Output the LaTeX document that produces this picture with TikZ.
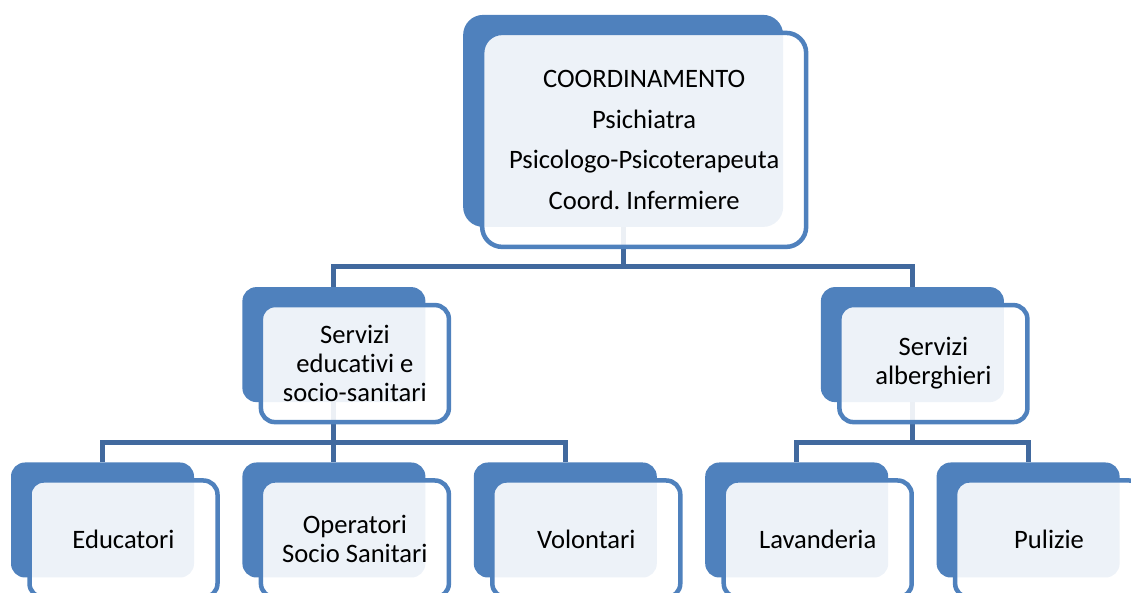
\documentclass[tikz,border=0pt]{standalone}
\usepackage{fontspec}
\setmainfont{Carlito}[Ligatures=NoCommon]
\usepackage{tikz}
\usetikzlibrary{positioning,calc}
\frenchspacing

\definecolor{boxblue}{HTML}{4F81BD}
\definecolor{linkblue}{HTML}{41699E}

\begin{document}
\begin{tikzpicture}[x=1pt, y=1pt,
    backbox/.style = {fill=boxblue, rounded corners=14pt, inner sep=0pt,
      minimum width=183pt, minimum height=115pt},
    frontbox/.style = {draw=boxblue, line width=4.5pt, fill=white,
      fill opacity=0.9, text opacity=1, rounded corners=14pt, inner sep=0pt,
      minimum width=188pt, minimum height=117pt, align=center,
      font=\fontsize{26.6}{29}\selectfont},
    connector/.style = {draw=linkblue, line width=5pt}]

      \clip (0,0) rectangle (1131,593);

      \node[backbox] (educB) at (102.5,73) {};
      \node[backbox, right = 48pt of educB] (ossB) {};
      \node[backbox, right = 48pt of ossB] (volB) {};
      \node[backbox, right = 48pt of volB] (lavB) {};
      \node[backbox, right = 48pt of lavB] (pulB) {};

      \node[backbox, above = 60pt of ossB] (edusanB) {};
      \coordinate (albergM) at ($(lavB)!0.5!(pulB)$);
      \node[backbox] (albergB) at (albergM |- edusanB) {};

      \node[backbox, minimum width=320pt, minimum height=212pt, rounded corners=20pt]
        (coordB) at ($(edusanB.north)!0.5!(albergB.north) + (0,166)$) {};

      \foreach \c in {edusanB, albergB}
        \draw[connector] (coordB.south) |- ($(\c.north) + (0,20)$) -- (\c.north);
      \foreach \c in {educB, ossB, volB}
        \draw[connector] (edusanB.south) |- ($(\c.north) + (0,20)$) -- (\c.north);
      \foreach \c in {lavB, pulB}
        \draw[connector] (albergB.south) |- ($(\c.north) + (0,20)$) -- (\c.north);

      \node[frontbox, minimum width=324pt, minimum height=214pt, rounded corners=20pt,
        font=\fontsize{26.6}{40.7}\selectfont] (coord) at ($(coordB) + (21,-19)$)
        {COORDINAMENTO\\Psichiatra\\Psicologo-Psicoterapeuta\\Coord. Infermiere};

      \node[frontbox] (edusan) at ($(edusanB) + (21,-19)$) {Servizi\\educativi e\\socio-sanitari};
      \node[frontbox] (albergh) at ($(albergB) + (21,-19)$) {Servizi\\alberghieri};

      \node[frontbox] (educ) at ($(educB) + (21,-19)$) {Educatori};
      \node[frontbox] (oss) at ($(ossB) + (21,-19)$) {Operatori\\Socio Sanitari};
      \node[frontbox] (vol) at ($(volB) + (21,-19)$) {Volontari};
      \node[frontbox] (lav) at ($(lavB) + (21,-19)$) {Lavanderia};
      \node[frontbox] (pul) at ($(pulB) + (21,-19)$) {Pulizie};

\end{tikzpicture}
\end{document}
